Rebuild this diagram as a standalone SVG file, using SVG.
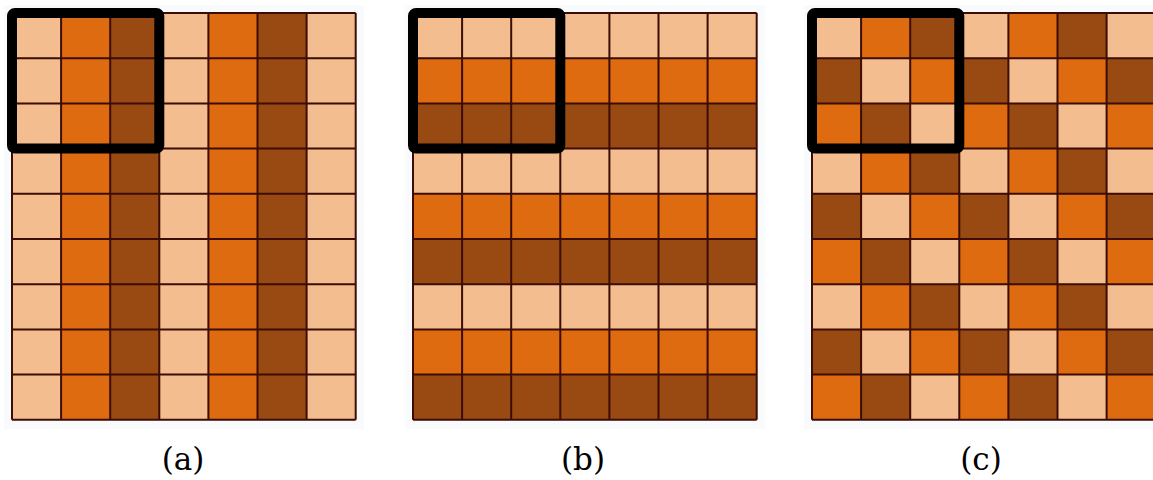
<svg xmlns="http://www.w3.org/2000/svg" width="1153" height="480" viewBox="0 0 1153 480">
<defs>
<style>
.L{fill:#f4bd8f}
.M{fill:#df6b10}
.D{fill:#984a12}
.bg{fill:#f8fafc}
.grid{fill:none;stroke:#3b0d05;stroke-width:2}
.frame{fill:none;stroke:#000;stroke-width:10;stroke-linejoin:round}
.lbl{font-family:"DejaVu Serif","Liberation Serif",serif;font-size:31px;fill:#000;text-anchor:middle}
</style>
<path id="gl" class="grid" d="M0,0V406.8M49.1,0V406.8M98.2,0V406.8M147.3,0V406.8M196.4,0V406.8M245.5,0V406.8M294.6,0V406.8M343.7,0V406.8M0,0H343.7M0,45.2H343.7M0,90.4H343.7M0,135.6H343.7M0,180.8H343.7M0,226H343.7M0,271.2H343.7M0,316.4H343.7M0,361.6H343.7M0,406.8H343.7"/>
<g id="r0">
<rect class="L" x="0" y="0" width="49.1" height="45.2"/><rect class="M" x="49.1" y="0" width="49.1" height="45.2"/><rect class="D" x="98.2" y="0" width="49.1" height="45.2"/><rect class="L" x="147.3" y="0" width="49.1" height="45.2"/><rect class="M" x="196.4" y="0" width="49.1" height="45.2"/><rect class="D" x="245.5" y="0" width="49.1" height="45.2"/><rect class="L" x="294.6" y="0" width="49.1" height="45.2"/>
</g>
<g id="r1">
<rect class="D" x="0" y="0" width="49.1" height="45.2"/><rect class="L" x="49.1" y="0" width="49.1" height="45.2"/><rect class="M" x="98.2" y="0" width="49.1" height="45.2"/><rect class="D" x="147.3" y="0" width="49.1" height="45.2"/><rect class="L" x="196.4" y="0" width="49.1" height="45.2"/><rect class="M" x="245.5" y="0" width="49.1" height="45.2"/><rect class="D" x="294.6" y="0" width="49.1" height="45.2"/>
</g>
<g id="r2">
<rect class="M" x="0" y="0" width="49.1" height="45.2"/><rect class="D" x="49.1" y="0" width="49.1" height="45.2"/><rect class="L" x="98.2" y="0" width="49.1" height="45.2"/><rect class="M" x="147.3" y="0" width="49.1" height="45.2"/><rect class="D" x="196.4" y="0" width="49.1" height="45.2"/><rect class="L" x="245.5" y="0" width="49.1" height="45.2"/><rect class="M" x="294.6" y="0" width="49.1" height="45.2"/>
</g>
</defs>
<rect width="1153" height="480" fill="#fff"/>

<g id="panel-a" transform="translate(12,13)">
<rect class="bg" x="-8" y="-8" width="360" height="424"/>
<rect class="L" x="0" y="0" width="49.1" height="406.8"/>
<rect class="M" x="49.1" y="0" width="49.1" height="406.8"/>
<rect class="D" x="98.2" y="0" width="49.1" height="406.8"/>
<rect class="L" x="147.3" y="0" width="49.1" height="406.8"/>
<rect class="M" x="196.4" y="0" width="49.1" height="406.8"/>
<rect class="D" x="245.5" y="0" width="49.1" height="406.8"/>
<rect class="L" x="294.6" y="0" width="49.1" height="406.8"/>
<use href="#gl"/>
<rect class="frame" x="0" y="0" width="147.3" height="135.6" rx="3"/>
</g>

<g id="panel-b" transform="translate(413,13)">
<rect class="bg" x="-8" y="-8" width="360" height="424"/>
<rect class="L" x="0" y="0" width="343.7" height="45.2"/>
<rect class="M" x="0" y="45.2" width="343.7" height="45.2"/>
<rect class="D" x="0" y="90.4" width="343.7" height="45.2"/>
<rect class="L" x="0" y="135.6" width="343.7" height="45.2"/>
<rect class="M" x="0" y="180.8" width="343.7" height="45.2"/>
<rect class="D" x="0" y="226" width="343.7" height="45.2"/>
<rect class="L" x="0" y="271.2" width="343.7" height="45.2"/>
<rect class="M" x="0" y="316.4" width="343.7" height="45.2"/>
<rect class="D" x="0" y="361.6" width="343.7" height="45.2"/>
<use href="#gl"/>
<rect class="frame" x="0" y="0" width="147.3" height="135.6" rx="3"/>
</g>

<g id="panel-c" transform="translate(812,13)">
<rect class="bg" x="-8" y="-8" width="360" height="424"/>
<use href="#r0" y="0"/>
<use href="#r1" y="45.2"/>
<use href="#r2" y="90.4"/>
<use href="#r0" y="135.6"/>
<use href="#r1" y="180.8"/>
<use href="#r2" y="226"/>
<use href="#r0" y="271.2"/>
<use href="#r1" y="316.4"/>
<use href="#r2" y="361.6"/>
<use href="#gl"/>
<rect class="frame" x="0" y="0" width="147.3" height="135.6" rx="3"/>
</g>

<g id="labels">
<text class="lbl" x="183" y="470">(a)</text>
<text class="lbl" x="583" y="470">(b)</text>
<text class="lbl" x="981" y="470">(c)</text>
</g>
</svg>
